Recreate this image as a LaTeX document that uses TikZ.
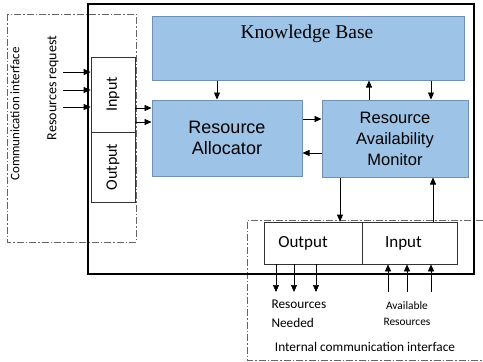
\documentclass[tikz,border=0pt]{standalone}
\usepackage{fontspec}
\setmainfont{Carlito}
\newfontfamily\arialfont{Liberation Sans}
\newfontfamily\timesfont{Liberation Serif}
\usetikzlibrary{arrows.meta}
\definecolor{boxfill}{HTML}{9DC3E6}
\definecolor{boxline}{HTML}{6F8FB3}
\tikzset{
  block/.style={draw=boxline, line width=1pt, fill=boxfill, align=center, font=\arialfont\fontsize{18}{21}\selectfont},
  port/.style={draw=black!80, line width=0.7pt, fill=white, font=\fontsize{16}{18}\selectfont},
  iface/.style={draw=black!60, line width=0.7pt, dash pattern=on 7pt off 2pt on 1.5pt off 2pt},
  arr/.style={-{Triangle[length=7pt,width=6pt]}, line width=0.7pt}
}
\begin{document}
\begin{tikzpicture}[x=1pt,y=-1pt]
  \useasboundingbox (0,0) rectangle (483,362);
  % interfaces
  \draw[iface] (7,14) rectangle (136,242);
  \draw[iface] (483,220) -- (247,220) -- (247,360) -- (483,360);
  % outer frame
  \draw[line width=2.6pt] (88,4) rectangle (474,274);
  % blocks
  \node[block, minimum width=312pt, minimum height=64pt] (kb) at (308,48) {};
  \node[font=\timesfont\fontsize{19.5}{22}\selectfont] (kbt) at (307,34) {Knowledge Base};
  \node[block, minimum width=150pt, minimum height=76pt] (ra) at (227,138) {Resource\\Allocator};
  \node[block, minimum width=146pt, minimum height=77pt, font=\arialfont\fontsize{16.5}{21}\selectfont]
        (ram) at (395,138.5) {Resource\\Availability\\Monitor};
  % left ports
  \node[port, rotate=90, minimum width=75pt, minimum height=44pt] (lin) at (113,94.5) {Input};
  \node[port, rotate=90, minimum width=70pt, minimum height=44pt] (lout) at (113,167) {Output};
  % lower ports
  \node[port, minimum width=98pt, minimum height=42pt, font=\fontsize{17}{19}\selectfont] (bout) at (313,243) {Output\rule{20pt}{0pt}};
  \node[port, minimum width=95pt, minimum height=42pt, font=\fontsize{17}{19}\selectfont] (bin) at (409.5,243) {Input\rule{12pt}{0pt}};
  % texts
  \node[rotate=90, font=\fontsize{13}{15}\selectfont] (ci) at (15,114) {Communication interface};
  \node[rotate=90, font=\fontsize{14}{16}\selectfont] (rr) at (53,88) {Resources request};
  \node[align=left, anchor=north west, font=\fontsize{13.3}{19}\selectfont] (rn) at (268,296) {Resources\\Needed};
  \node[align=center, font=\fontsize{11.4}{16}\selectfont] (ar) at (407,314) {Available\\Resources};
  \node[font=\fontsize{13.3}{15}\selectfont] (ici) at (365,347) {Internal communication interface};
  % request arrows
  \foreach \y in {72,90,107}
    \draw[arr] (63,\y) -- (lin.north |- 0,\y);
  \foreach \y in {108,122}
    \draw[arr] (lin.south |- 0,\y) -- (ra.west |- 0,\y);
  % inner arrows
  \draw[arr] (kb.south -| 217,0) -- (ra.north -| 217,0);
  \draw[arr] (ram.north -| 369,0) -- (kb.south -| 369,0);
  \draw[arr] (kb.south -| 431,0) -- (ram.north -| 431,0);
  \draw[arr] (ra.east |- 0,119) -- (ram.west |- 0,119);
  \draw[arr] (ram.west |- 0,153) -- (ra.east |- 0,153);
  \draw[arr] (ram.south -| 340,0) -- (bout.north -| 340,0);
  \draw[arr] (bin.north -| 433,0) -- (ram.south -| 433,0);
  % lower arrows
  \foreach \x in {276,294,316}
    \draw[arr] (bout.south -| \x,0) -- (\x,292);
  \foreach \x in {388,407,431}
    \draw[arr] (\x,292) -- (bin.south -| \x,0);
\end{tikzpicture}
\end{document}
